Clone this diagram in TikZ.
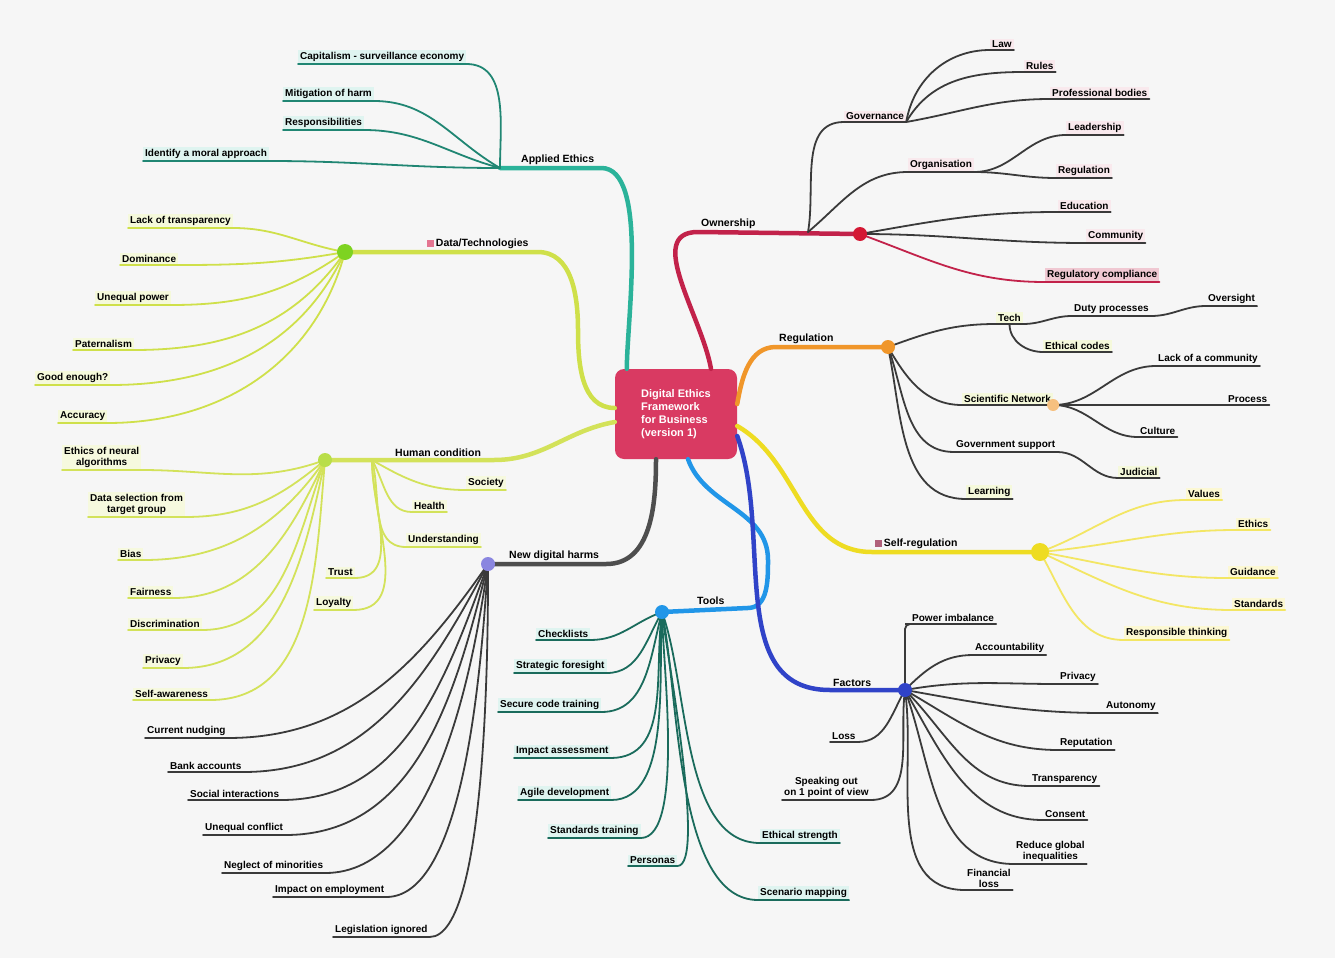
\documentclass[tikz,border=0pt]{standalone}
\usepackage{fontspec}
\setmainfont{Liberation Sans}
\usepackage{tikz}
\usetikzlibrary{arrows, positioning, shapes}

\definecolor{paper}{HTML}{F6F6F6}
\definecolor{corered}{HTML}{D93A62}
\definecolor{ethteal}{HTML}{2BB39A}
\definecolor{datalime}{HTML}{CFE04A}
\definecolor{hubgreen}{HTML}{7ED321}
\definecolor{humanlime}{HTML}{D3E25A}
\definecolor{harmgray}{HTML}{4E4E4E}
\definecolor{harmpurple}{HTML}{8A86E0}
\definecolor{toolblue}{HTML}{2196E8}
\definecolor{ownred}{HTML}{C2224A}
\definecolor{regorange}{HTML}{F0962A}
\definecolor{selfyellow}{HTML}{EEDC22}
\definecolor{factblue}{HTML}{3043C8}
\definecolor{twiggray}{HTML}{3A3A3A}
\definecolor{mauve}{HTML}{B0607A}

\newcommand{\trunkwidth}{4.5pt}
\newcommand{\twigwidth}{1.8pt}
\newcommand{\leaffont}{\fontsize{10}{11}\selectfont\bfseries}
\newcommand{\branchfont}{\fontsize{10.5}{11.5}\selectfont\bfseries}

\tikzstyle{core} = [% central topic
  rectangle,
  rounded corners=9pt,
  minimum width=122pt,
  minimum height=90pt,
  align=left,
  text=white,
  fill=corered,
  font=\fontsize{11}{13}\selectfont\bfseries
  ]
\tikzstyle{branch} = [% main branch label
  anchor=south west,
  inner sep=3pt,
  font=\branchfont
  ]
\tikzstyle{leaf} = [% leaf label
  anchor=south west,
  inner sep=2pt,
  align=center,
  font=\leaffont
  ]
\tikzstyle{trunk} = [% main branch line
  line width=\trunkwidth,
  line cap=round,
  line join=round
  ]
\tikzstyle{twig} = [% leaf line
  line width=\twigwidth,
  line cap=round,
  draw=twiggray
  ]

\begin{document}
\begin{tikzpicture}[x=1pt, y=-1pt]

\fill[paper] (0,0) rectangle (1335,958);
\useasboundingbox (0,0) rectangle (1335,958);

%%% Core
\node[core] (core) at (676,414) {Digital Ethics\\Framework\\for Business\\(version 1)};

%%% Hubs
\coordinate (ae) at (500,168);
\coordinate (dt) at (345,252);
\coordinate (dtbend) at (578,330);
\coordinate (hc) at (325,460);
\coordinate (hcdrop) at (372,460);
\coordinate (nh) at (488,564);
\coordinate (tl) at (662,612);
\coordinate (tlbend) at (768,560);
\coordinate (ow) at (808,232);
\coordinate (owfan) at (860,234);
\coordinate (rg) at (888,347);
\coordinate (sr) at (1040,552);
\coordinate (fc) at (905,690);

%%% Branch labels
\node[branch] (aeL) at (518,168) {Applied Ethics};
\node[branch] (dtL) at (424,252) {\textcolor{corered!70}{\rule{7pt}{7pt}}\,Data/Technologies};
\node[branch] (hcL) at (392,460) {Human condition};
\node[branch] (nhL) at (506,564) {New digital harms};
\node[branch] (tlL) at (694,608) {Tools};
\node[branch] (owL) at (698,232) {Ownership};
\node[branch] (rgL) at (776,347) {Regulation};
\node[branch] (srL) at (872,552) {\textcolor{mauve}{\rule{7pt}{7pt}}\,Self-regulation};
\node[branch] (fcL) at (830,690) {Factors};

%%% Trunks
\draw[trunk, draw=ethteal] ([xshift=12pt]core.north west) to[out=90,in=0,looseness=0.6] ([xshift=4pt]aeL.south east) -- (ae);
\draw[trunk, draw=datalime] ([yshift=6pt]core.west) to[out=180,in=270] (dtbend) to[out=90,in=0] ([xshift=6pt]dtL.south east) -- (dt);
\draw[trunk, draw=humanlime] ([yshift=-8pt]core.west) to[out=190,in=0] ([xshift=10pt]hcL.south east) -- (hc);
\draw[trunk, draw=harmgray] ([xshift=-20pt]core.south) to[out=270,in=0] ([xshift=4pt]nhL.south east) -- (nh);
\draw[trunk, draw=toolblue] ([xshift=12pt]core.south) to[out=290,in=90] (tlbend) to[out=270,in=0] ([xshift=20pt]tlL.south east) -- (tl);
\draw[trunk, draw=ownred] ([xshift=35pt]core.north) to[out=100,in=180] (owL.south west) -- (owfan);
\draw[trunk, draw=regorange] ([yshift=10pt]core.east) to[out=80,in=180] (rgL.south west) -- (rg);
\draw[trunk, draw=selfyellow] ([yshift=-12pt]core.east) to[out=330,in=180] (srL.south west) -- (sr);
\draw[trunk, draw=factblue] ([yshift=-22pt]core.east) to[out=290,in=180] (fcL.south west) -- (fc);

%%% Applied ethics
\node[leaf, fill=ethteal!15] (ae1) at (298,64) {Capitalism - surveillance economy};
\node[leaf, fill=ethteal!15] (ae2) at (283,101) {Mitigation of harm};
\node[leaf, fill=ethteal!15] (ae3) at (283,130) {Responsibilities};
\node[leaf, fill=ethteal!15] (ae4) at (143,161) {Identify a moral approach};
\draw[twig, draw=ethteal!75!black] (ae1.south west) -- (ae1.south east) to[out=0,in=90] (ae);
\draw[twig, draw=ethteal!75!black] (ae2.south west) -- (ae2.south east) to[out=0,in=150] (ae);
\draw[twig, draw=ethteal!75!black] (ae3.south west) -- (ae3.south east) to[out=0,in=165] (ae);
\draw[twig, draw=ethteal!75!black] (ae4.south west) -- (ae4.south east) to[out=0,in=180] (ae);

%%% Data / technologies
\node[leaf, fill=datalime!20] (dt1) at (128,228) {Lack of transparency};
\node[leaf, fill=datalime!20] (dt2) at (120,265) {Dominance};
\node[leaf, fill=datalime!20] (dt3) at (95,305) {Unequal power};
\node[leaf, fill=datalime!20] (dt4) at (73,350) {Paternalism};
\node[leaf, fill=datalime!20] (dt5) at (35,385) {Good enough?};
\node[leaf, fill=datalime!20] (dt6) at (58,423) {Accuracy};
\draw[twig, draw=datalime] (dt1.south west) -- (dt1.south east) to[out=0,in=170] (dt);
\draw[twig, draw=datalime] (dt2.south west) -- (dt2.south east) to[out=0,in=190] (dt);
\draw[twig, draw=datalime] (dt3.south west) -- (dt3.south east) to[out=0,in=215] (dt);
\draw[twig, draw=datalime] (dt4.south west) -- (dt4.south east) to[out=0,in=235] (dt);
\draw[twig, draw=datalime] (dt5.south west) -- (dt5.south east) to[out=0,in=245] (dt);
\draw[twig, draw=datalime] (dt6.south west) -- (dt6.south east) to[out=0,in=255] (dt);
\fill[hubgreen] (dt) circle (8pt);

%%% Human condition
\node[leaf, fill=humanlime!20] (hc1) at (62,470) {Ethics of neural\\algorithms};
\node[leaf, fill=humanlime!20] (hc2) at (88,517) {Data selection from\\target group};
\node[leaf, fill=humanlime!20] (hc3) at (118,560) {Bias};
\node[leaf, fill=humanlime!20] (hc4) at (128,598) {Fairness};
\node[leaf, fill=humanlime!20] (hc5) at (128,630) {Discrimination};
\node[leaf, fill=humanlime!20] (hc6) at (143,668) {Privacy};
\node[leaf, fill=humanlime!20] (hc7) at (133,700) {Self-awareness};
\node[leaf, fill=humanlime!20] (hc8) at (466,490) {Society};
\node[leaf, fill=humanlime!20] (hc9) at (412,512) {Health};
\node[leaf, fill=humanlime!20] (hc10) at (406,547) {Understanding};
\node[leaf, fill=humanlime!20] (hc11) at (326,578) {Trust};
\node[leaf, fill=humanlime!20] (hc12) at (314,610) {Loyalty};
\draw[twig, draw=humanlime] (hc1.south west) -- (hc1.south east) to[out=0,in=200] (hc);
\draw[twig, draw=humanlime] (hc2.south west) -- (hc2.south east) to[out=0,in=220] (hc);
\draw[twig, draw=humanlime] (hc3.south west) -- (hc3.south east) to[out=0,in=235] (hc);
\draw[twig, draw=humanlime] (hc4.south west) -- (hc4.south east) to[out=0,in=245] (hc);
\draw[twig, draw=humanlime] (hc5.south west) -- (hc5.south east) to[out=0,in=250] (hc);
\draw[twig, draw=humanlime] (hc6.south west) -- (hc6.south east) to[out=0,in=258] (hc);
\draw[twig, draw=humanlime] (hc7.south west) -- (hc7.south east) to[out=0,in=265] (hc);
\draw[twig, draw=humanlime] (hc8.south east) -- (hc8.south west) to[out=180,in=330] (hcdrop);
\draw[twig, draw=humanlime] (hc9.south east) -- (hc9.south west) to[out=180,in=300] (hcdrop);
\draw[twig, draw=humanlime] (hc10.south east) -- (hc10.south west) to[out=180,in=285] (hcdrop);
\draw[twig, draw=humanlime] (hc11.south west) -- (hc11.south east) to[out=0,in=270] (hcdrop);
\draw[twig, draw=humanlime] (hc12.south west) -- (hc12.south east) to[out=0,in=270] (hcdrop);
\fill[humanlime!70!hubgreen] (hc) circle (7pt);

%%% New digital harms
\node[leaf] (nh1) at (145,738) {Current nudging};
\node[leaf] (nh2) at (168,772) {Bank accounts};
\node[leaf] (nh3) at (188,800) {Social interactions};
\node[leaf] (nh4) at (203,835) {Unequal conflict};
\node[leaf] (nh5) at (222,873) {Neglect of minorities};
\node[leaf] (nh6) at (273,897) {Impact on employment};
\node[leaf] (nh7) at (333,937) {Legislation ignored};
\draw[twig] (nh1.south west) -- (nh1.south east) to[out=0,in=235] (nh);
\draw[twig] (nh2.south west) -- (nh2.south east) to[out=0,in=242] (nh);
\draw[twig] (nh3.south west) -- (nh3.south east) to[out=0,in=250] (nh);
\draw[twig] (nh4.south west) -- (nh4.south east) to[out=0,in=256] (nh);
\draw[twig] (nh5.south west) -- (nh5.south east) to[out=0,in=262,looseness=0.8] (nh);
\draw[twig] (nh6.south west) -- (nh6.south east) to[out=0,in=266,looseness=0.6] (nh);
\draw[twig] (nh7.south west) -- (nh7.south east) to[out=0,in=270,looseness=0.4] (nh);
\fill[harmpurple] (nh) circle (7pt);

%%% Tools
\node[leaf, fill=ethteal!15] (tl1) at (536,640) {Checklists};
\node[leaf, fill=ethteal!15] (tl2) at (514,673) {Strategic foresight};
\node[leaf, fill=ethteal!15] (tl3) at (498,712) {Secure code training};
\node[leaf, fill=ethteal!15] (tl4) at (514,758) {Impact assessment};
\node[leaf, fill=ethteal!15] (tl5) at (518,800) {Agile development};
\node[leaf, fill=ethteal!15] (tl6) at (548,838) {Standards training};
\node[leaf, fill=ethteal!15] (tl7) at (628,866) {Personas};
\node[leaf, fill=ethteal!15] (tl8) at (760,843) {Ethical strength};
\node[leaf, fill=ethteal!15] (tl9) at (758,900) {Scenario mapping};
\draw[twig, draw=ethteal!60!black] (tl1.south west) -- (tl1.south east) to[out=0,in=200] (tl);
\draw[twig, draw=ethteal!60!black] (tl2.south west) -- (tl2.south east) to[out=0,in=240] (tl);
\draw[twig, draw=ethteal!60!black] (tl3.south west) -- (tl3.south east) to[out=0,in=255] (tl);
\draw[twig, draw=ethteal!60!black] (tl4.south west) -- (tl4.south east) to[out=0,in=262] (tl);
\draw[twig, draw=ethteal!60!black] (tl5.south west) -- (tl5.south east) to[out=0,in=266,looseness=0.8] (tl);
\draw[twig, draw=ethteal!60!black] (tl6.south west) -- (tl6.south east) to[out=0,in=270,looseness=0.5] (tl);
\draw[twig, draw=ethteal!60!black] (tl7.south west) -- (tl7.south east) to[out=0,in=275,looseness=0.3] (tl);
\draw[twig, draw=ethteal!60!black] (tl8.south east) -- (tl8.south west) to[out=180,in=290,looseness=0.8] (tl);
\draw[twig, draw=ethteal!60!black] (tl9.south east) -- (tl9.south west) to[out=180,in=282,looseness=0.7] (tl);
\fill[toolblue] (tl) circle (7pt);

%%% Ownership
\node[leaf, fill=ownred!10] (ow1) at (844,122) {Governance};
\node[leaf, fill=ownred!10] (ow1a) at (990,50) {Law};
\node[leaf, fill=ownred!10] (ow1b) at (1024,72) {Rules};
\node[leaf, fill=ownred!10] (ow1c) at (1050,99) {Professional bodies};
\node[leaf, fill=ownred!10] (ow2) at (908,172) {Organisation};
\node[leaf, fill=ownred!10] (ow2a) at (1066,135) {Leadership};
\node[leaf, fill=ownred!10] (ow2b) at (1056,178) {Regulation};
\node[leaf, fill=ownred!10] (ow3) at (1058,212) {Education};
\node[leaf, fill=ownred!10] (ow4) at (1086,243) {Community};
\node[leaf, fill=ownred!25] (ow5) at (1045,282) {Regulatory compliance};
\draw[twig] (ow1.south east) -- (ow1.south west) to[out=180,in=80] (ow);
\draw[twig] (ow1a.south east) -- (ow1a.south west) to[out=180,in=80] (ow1.south east);
\draw[twig] (ow1b.south east) -- (ow1b.south west) to[out=180,in=60] (ow1.south east);
\draw[twig] (ow1c.south east) -- (ow1c.south west) to[out=180,in=10] (ow1.south east);
\draw[twig] (ow2.south east) -- (ow2.south west) to[out=180,in=40] (ow);
\draw[twig] (ow2a.south east) -- (ow2a.south west) to[out=180,in=0] (ow2.south east);
\draw[twig] (ow2b.south east) -- (ow2b.south west) to[out=180,in=0] (ow2.south east);
\draw[twig] (ow3.south east) -- (ow3.south west) to[out=180,in=10] (owfan);
\draw[twig] (ow4.south east) -- (ow4.south west) to[out=180,in=0] (owfan);
\draw[twig, draw=ownred] (ow5.south east) -- (ow5.south west) to[out=180,in=340] (owfan);
\fill[ownred!70!red] (owfan) circle (7pt);

%%% Regulation
\node[leaf, fill=datalime!20] (rg1) at (996,324) {Tech};
\node[leaf] (rg1a) at (1072,316) {Duty processes};
\node[leaf] (rg1b) at (1206,306) {Oversight};
\node[leaf, fill=datalime!20] (rg1c) at (1043,352) {Ethical codes};
\node[leaf, fill=datalime!20] (rg2) at (962,405) {Scientific Network};
\node[leaf] (rg2a) at (1156,366) {Lack of a community};
\node[leaf] (rg2b) at (1226,405) {Process};
\node[leaf] (rg2c) at (1138,437) {Culture};
\node[leaf] (rg3) at (954,452) {Government support};
\node[leaf, fill=datalime!20] (rg3a) at (1118,478) {Judicial};
\node[leaf, fill=datalime!20] (rg4) at (966,499) {Learning};
\draw[twig] (rg1.south east) -- (rg1.south west) to[out=180,in=20] (rg);
\draw[twig] (rg1a.south east) -- (rg1a.south west) to[out=180,in=0] (rg1.south east);
\draw[twig] (rg1b.south east) -- (rg1b.south west) to[out=180,in=0] (rg1a.south east);
\draw[twig] (rg1c.south east) -- (rg1c.south west) to[out=180,in=270] (rg1.south);
\draw[twig] (rg2.south east) -- (rg2.south west) to[out=180,in=300] (rg);
\draw[twig] (rg2a.south east) -- (rg2a.south west) to[out=180,in=0] (rg2.south east);
\draw[twig] (rg2b.south east) -- (rg2.south east);
\draw[twig] (rg2c.south east) -- (rg2c.south west) to[out=180,in=0] (rg2.south east);
\draw[twig] (rg3.south east) -- (rg3.south west) to[out=180,in=290] (rg);
\draw[twig] (rg3a.south east) -- (rg3a.south west) to[out=180,in=0] (rg3.south east);
\draw[twig] (rg4.south east) -- (rg4.south west) to[out=180,in=282] (rg);
\fill[regorange] (rg) circle (7pt);
\fill[regorange!60] (rg2.south east) circle (6pt);

%%% Self-regulation
\node[leaf, fill=selfyellow!20] (sr1) at (1186,500) {Values};
\node[leaf, fill=selfyellow!20] (sr2) at (1236,530) {Ethics};
\node[leaf, fill=selfyellow!20] (sr3) at (1228,578) {Guidance};
\node[leaf, fill=selfyellow!20] (sr4) at (1232,610) {Standards};
\node[leaf, fill=selfyellow!20] (sr5) at (1124,640) {Responsible thinking};
\draw[twig, draw=selfyellow!70] (sr1.south east) -- (sr1.south west) to[out=180,in=20] (sr);
\draw[twig, draw=selfyellow!70] (sr2.south east) -- (sr2.south west) to[out=180,in=5] (sr);
\draw[twig, draw=selfyellow!70] (sr3.south east) -- (sr3.south west) to[out=180,in=350] (sr);
\draw[twig, draw=selfyellow!70] (sr4.south east) -- (sr4.south west) to[out=180,in=335] (sr);
\draw[twig, draw=selfyellow!70] (sr5.south east) -- (sr5.south west) to[out=180,in=300] (sr);
\fill[selfyellow] (sr) circle (9pt);

%%% Factors
\node[leaf] (fc1) at (910,624) {Power imbalance};
\node[leaf] (fc2) at (973,655) {Accountability};
\node[leaf] (fc3) at (1058,684) {Privacy};
\node[leaf] (fc4) at (1104,713) {Autonomy};
\node[leaf] (fc5) at (1058,750) {Reputation};
\node[leaf] (fc6) at (1030,786) {Transparency};
\node[leaf] (fc7) at (1043,820) {Consent};
\node[leaf] (fc8) at (1014,864) {Reduce global\\inequalities};
\node[leaf] (fc9) at (965,890) {Financial\\loss};
\node[leaf] (fc10) at (830,742) {Loss};
\node[leaf] (fc11) at (782,800) {Speaking out\\on 1 point of view};
\draw[twig, rounded corners=5pt] (fc1.south east) -- (fc1.south west) -| (fc);
\draw[twig] (fc2.south east) -- (fc2.south west) to[out=180,in=45] (fc);
\draw[twig] (fc3.south east) -- (fc3.south west) to[out=180,in=10] (fc);
\draw[twig] (fc4.south east) -- (fc4.south west) to[out=180,in=350] (fc);
\draw[twig] (fc5.south east) -- (fc5.south west) to[out=180,in=330] (fc);
\draw[twig] (fc6.south east) -- (fc6.south west) to[out=180,in=315] (fc);
\draw[twig] (fc7.south east) -- (fc7.south west) to[out=180,in=300] (fc);
\draw[twig] (fc8.south east) -- (fc8.south west) to[out=180,in=290] (fc);
\draw[twig] (fc9.south east) -- (fc9.south west) to[out=180,in=278] (fc);
\draw[twig] (fc10.south west) -- (fc10.south east) to[out=0,in=240] (fc);
\draw[twig] (fc11.south west) -- (fc11.south east) to[out=0,in=262] (fc);
\fill[factblue] (fc) circle (7pt);

\end{tikzpicture}
\end{document}
